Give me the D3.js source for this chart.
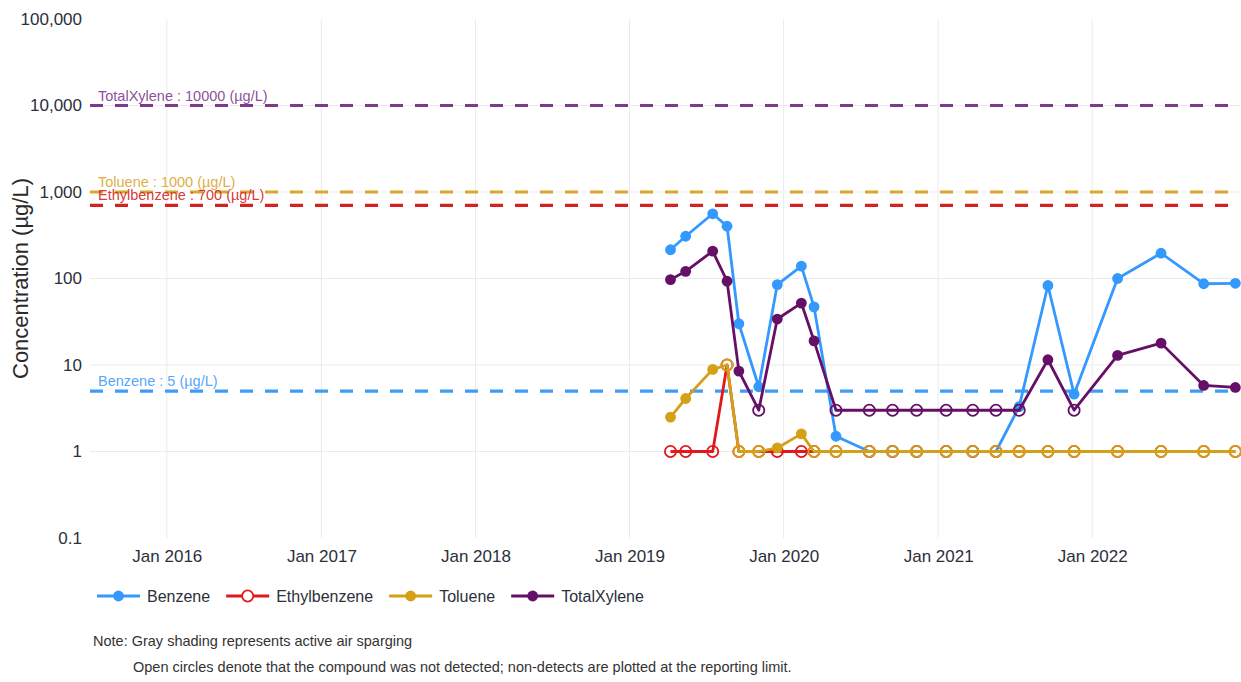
<!DOCTYPE html>
<html>
<head>
<meta charset="utf-8">
<script src="https://cdn.jsdelivr.net/npm/d3@7"></script>
<style>
  html, body { margin: 0; padding: 0; background: #fff; }
  svg { display: block; font-family: "Liberation Sans", Arial, sans-serif; }
</style>
</head>
<body>
<svg id="chart" width="1241" height="682"></svg>
<script>
// Sampling dates (shared by all compounds)
const sampleDates = [
  "2019-04-08", "2019-05-14", "2019-07-17", "2019-08-20", "2019-09-17", "2019-11-03",
  "2019-12-17", "2020-02-12", "2020-03-13", "2020-05-04", "2020-07-22", "2020-09-15",
  "2020-11-11", "2021-01-20", "2021-03-24", "2021-05-18", "2021-07-12", "2021-09-18",
  "2021-11-19", "2022-03-02", "2022-06-13", "2022-09-22", "2022-12-06"
];

// Concentrations (µg/L); non-detects carry the reporting limit
const benzene      = [215, 308, 560, 402, 30, 5.6, 85, 139, 47, 1.5, 1, 1, 1, 1, 1, 1, 3.3, 83, 4.6, 100, 196, 87, 88];
const benzeneND    = [0, 0, 0, 0, 0, 0, 0, 0, 0, 0, 1, 1, 1, 1, 1, 1, 0, 0, 0, 0, 0, 0, 0];
const ethylbenzene   = [1, 1, 1, 10, 1, 1, 1, 1, 1, 1, 1, 1, 1, 1, 1, 1, 1, 1, 1, 1, 1, 1, 1];
const ethylbenzeneND = [1, 1, 1, 1, 1, 1, 1, 1, 1, 1, 1, 1, 1, 1, 1, 1, 1, 1, 1, 1, 1, 1, 1];
const toluene      = [2.5, 4.1, 8.9, 10, 1, 1, 1.1, 1.6, 1, 1, 1, 1, 1, 1, 1, 1, 1, 1, 1, 1, 1, 1, 1];
const tolueneND    = [0, 0, 0, 1, 1, 1, 0, 0, 1, 1, 1, 1, 1, 1, 1, 1, 1, 1, 1, 1, 1, 1, 1];
const totalXylene   = [97, 121, 207, 93, 8.5, 3, 34, 52, 19, 3, 3, 3, 3, 3, 3, 3, 3, 11.5, 3, 12.9, 17.9, 5.8, 5.5];
const totalXyleneND = [0, 0, 0, 0, 0, 1, 0, 0, 0, 1, 1, 1, 1, 1, 1, 1, 1, 0, 1, 0, 0, 0, 0];

const seriesNames  = ["Benzene", "Ethylbenzene", "Toluene", "TotalXylene"];
const seriesColors = ["#3399FF", "#E0191C", "#D4A017", "#650F66"];

// Regulatory screening levels (µg/L)
const limitNames  = ["TotalXylene", "Toluene", "Ethylbenzene", "Benzene"];
const limitValues = [10000, 1000, 700, 5];
const limitColors = ["#7D3A8C", "#D9A52C", "#D42121", "#3E9CF6"];

const yTickValues = [0.1, 1, 10, 100, 1000, 10000, 100000];
const xTickDates  = ["2016-01-01", "2017-01-01", "2018-01-01", "2019-01-01", "2020-01-01", "2021-01-01", "2022-01-01"];
const xDomain     = ["2015-07-03", "2022-12-17"];

const yTitle = "Concentration (µg/L)";
const noteLines = [
  "Note: Gray shading represents active air sparging",
  "Open circles denote that the compound was not detected; non-detects are plotted at the reporting limit."
];

// ---------------------------------------------------------------
const parse = d3.utcParse("%Y-%m-%d");
const svg = d3.select("#chart");
const plot = { left: 90, right: 1240, top: 19, bottom: 538 };

const x = d3.scaleUtc().domain(xDomain.map(parse)).range([plot.left, plot.right]);
const y = d3.scaleLog().domain([0.1, 100000]).range([plot.bottom, plot.top]);

svg.append("rect").attr("width", 1241).attr("height", 682).attr("fill", "#fff");

// Grid
const grid = svg.append("g");
grid.selectAll("line.v").data(xTickDates.map(parse)).join("line")
  .attr("x1", d => x(d)).attr("x2", d => x(d))
  .attr("y1", plot.top).attr("y2", plot.bottom)
  .attr("stroke", "#ebebeb").attr("stroke-width", 1);
grid.selectAll("line.h").data(yTickValues.slice(1, -1)).join("line")
  .attr("x1", plot.left).attr("x2", plot.right)
  .attr("y1", d => y(d)).attr("y2", d => y(d))
  .attr("stroke", "#ebebeb").attr("stroke-width", 1);

// Axes
const fmtY = v => v < 1 ? String(v) : d3.format(",")(v);
const yAxis = svg.append("g").attr("transform", `translate(${plot.left},0)`)
  .call(d3.axisLeft(y).tickValues(yTickValues).tickFormat(fmtY).tickSize(0).tickPadding(8));
const xAxis = svg.append("g").attr("transform", `translate(0,${plot.bottom})`)
  .call(d3.axisBottom(x).tickValues(xTickDates.map(parse)).tickFormat(d3.utcFormat("Jan %Y")).tickSize(0).tickPadding(12));
[yAxis, xAxis].forEach(a => {
  a.select(".domain").remove();
  a.selectAll("text").attr("font-size", 17).attr("fill", "#2b303b")
    .attr("font-family", "'Liberation Sans', Arial, sans-serif");
});

svg.append("text")
  .attr("transform", `translate(28,${(plot.top + plot.bottom) / 2}) rotate(-90)`)
  .attr("text-anchor", "middle")
  .attr("font-size", 22).attr("fill", "#2a2a2a")
  .text(yTitle);

// Screening-level reference lines
const limits = svg.append("g");
limitValues.forEach((v, i) => {
  limits.append("line")
    .attr("x1", plot.left).attr("x2", plot.right)
    .attr("y1", y(v)).attr("y2", y(v))
    .attr("stroke", limitColors[i]).attr("stroke-width", 3.2)
    .attr("stroke-dasharray", "13,12");
  limits.append("text")
    .attr("x", plot.left + 8).attr("y", y(v) - 5)
    .attr("font-size", 14.5).attr("fill", limitColors[i]).attr("fill-opacity", 0.9)
    .text(`${limitNames[i]} : ${v} (µg/L)`);
});

// Series
const seriesValues = [benzene, ethylbenzene, toluene, totalXylene];
const seriesND = [benzeneND, ethylbenzeneND, tolueneND, totalXyleneND];
const line = d3.line().x(d => x(d.date)).y(d => y(d.value));

seriesNames.forEach((name, i) => {
  const pts = sampleDates.map((d, j) => ({ date: parse(d), value: seriesValues[i][j], nd: seriesND[i][j] === 1 }));
  const g = svg.append("g");
  g.append("path").datum(pts).attr("d", line)
    .attr("fill", "none").attr("stroke", seriesColors[i]).attr("stroke-width", 2.8)
    .attr("stroke-linejoin", "round");
  g.selectAll("circle").data(pts).join("circle")
    .attr("cx", d => x(d.date)).attr("cy", d => y(d.value))
    .attr("r", d => d.nd ? 5.6 : 5.4)
    .attr("fill", d => d.nd ? "none" : seriesColors[i])
    .attr("stroke", seriesColors[i])
    .attr("stroke-width", d => d.nd ? 1.8 : 0);
});

// Legend
const legend = svg.append("g").attr("transform", "translate(97,596)");
let lx = 0;
seriesNames.forEach((name, i) => {
  const openMarker = seriesND[i][0] === 1;
  const item = legend.append("g").attr("transform", `translate(${lx},0)`);
  item.append("line").attr("x1", 0).attr("x2", 43).attr("y1", 0).attr("y2", 0)
    .attr("stroke", seriesColors[i]).attr("stroke-width", 2.8);
  item.append("circle").attr("cx", 21.5).attr("cy", 0).attr("r", openMarker ? 5.6 : 5.4)
    .attr("fill", openMarker ? "#fff" : seriesColors[i])
    .attr("stroke", seriesColors[i]).attr("stroke-width", openMarker ? 1.8 : 0);
  const t = item.append("text").attr("x", 50).attr("y", 0).attr("dy", "0.35em")
    .attr("font-size", 16).attr("fill", "#2b303b").text(name);
  lx += 50 + t.node().getComputedTextLength() + 16;
});

// Notes
svg.append("text").attr("x", 93).attr("y", 646)
  .attr("font-size", 14.5).attr("fill", "#333").text(noteLines[0]);
svg.append("text").attr("x", 133).attr("y", 672)
  .attr("font-size", 14.5).attr("fill", "#333").text(noteLines[1]);
</script>
</body>
</html>
